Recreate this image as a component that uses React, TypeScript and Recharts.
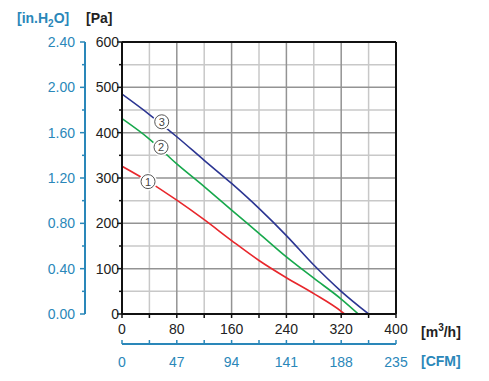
import React from "react";
import { LineChart, Line, XAxis, YAxis, CartesianGrid, ReferenceLine, ReferenceDot } from "recharts";

// axis ticks
const flowTicks = [0, 40, 80, 120, 160, 200, 240, 280, 320, 360, 400];
const cfmTicks = [0, 23.5, 47, 70.5, 94, 117.5, 141, 164.5, 188, 211.5, 235];
const paTicks = [0, 50, 100, 150, 200, 250, 300, 350, 400, 450, 500, 550, 600];
const inTicks = [0, 0.2, 0.4, 0.6, 0.8, 1.0, 1.2, 1.4, 1.6, 1.8, 2.0, 2.2, 2.4];

// grid lines
const gridLightX = [40, 120, 200, 280, 360];
const gridDarkX = [80, 160, 240, 320];
const gridLightY = [50, 150, 250, 350, 450, 550];
const gridDarkY = [100, 200, 300, 400, 500];

// fan curves: flow [m3/h], pressure [Pa]
const flow1 = [0, 40, 80, 120, 160, 200, 240, 280, 320, 325];
const pres1 = [326, 291, 251, 208, 162, 118, 80, 45, 6, 0];
const flow2 = [0, 40, 80, 120, 160, 200, 240, 280, 320, 345];
const pres2 = [431, 386, 331, 281, 229, 178, 126, 79, 33, 0];
const flow3 = [0, 40, 80, 120, 160, 200, 240, 280, 320, 360];
const pres3 = [485, 440, 391, 339, 288, 233, 173, 108, 50, 0];

// circled curve numbers
const curveLabels = ["1", "2", "3"];
const labelFlow = [38, 57, 58];
const labelPres = [292, 368, 424];

const curveColors = ["#e8272c", "#17a84c", "#2b3592"];

const BLUE = "#2a87b9";
const INK = "#222";

// axis ids (inner axis first)
const X_M3 = "a_m3";
const X_CFM = "b_cfm";
const Y_PA = "a_pa";
const Y_IN = "b_in";

const toData = (q: number[], p: number[]) => q.map((v, i) => ({ q: v, p: p[i] }));
const series = [toData(flow1, pres1), toData(flow2, pres2), toData(flow3, pres3)];

function PaTick(props: any) {
  const { x, y, payload } = props;
  const major = payload.value % 100 === 0;
  return (
    <g>
      <line x1={x - (major ? 5 : 3)} x2={x} y1={y} y2={y} stroke="#111" strokeWidth={1.5} />
      {major && (
        <text x={x - 3} y={y + 5} textAnchor="end" fontSize={14} fill={INK}>
          {payload.value}
        </text>
      )}
    </g>
  );
}

function InTick(props: any) {
  const { x, y, payload, index } = props;
  const major = index % 2 === 0;
  return (
    <g>
      <line x1={x - (major ? 5 : 3)} x2={x} y1={y} y2={y} stroke={BLUE} strokeWidth={1.5} />
      {major && (
        <text x={x - 10} y={y + 5} textAnchor="end" fontSize={14} fill={BLUE}>
          {Number(payload.value).toFixed(2)}
        </text>
      )}
    </g>
  );
}

function FlowTick(props: any) {
  const { x, y, payload } = props;
  const major = payload.value % 80 === 0;
  return (
    <g>
      <line x1={x} x2={x} y1={y} y2={y + 4} stroke="#111" strokeWidth={1.5} />
      {major && (
        <text x={x} y={y + 20} textAnchor="middle" fontSize={14} fill={INK}>
          {payload.value}
        </text>
      )}
    </g>
  );
}

function CfmTick(props: any) {
  const { x, y, payload, index } = props;
  const major = index % 2 === 0;
  return (
    <g>
      <line x1={x} x2={x} y1={y - 4} y2={y} stroke={BLUE} strokeWidth={1.5} />
      {major && (
        <text x={x} y={y + 23} textAnchor="middle" fontSize={14} fill={BLUE}>
          {payload.value}
        </text>
      )}
    </g>
  );
}

function CircleNum(props: any) {
  const { cx, cy, label } = props;
  return (
    <g>
      <circle cx={cx} cy={cy} r={9} fill="#fff" />
      <circle cx={cx} cy={cy} r={7} fill="#fff" stroke="#555" strokeWidth={1} />
      <text x={cx} y={cy + 4} textAnchor="middle" fontSize={11} fill="#444">
        {label}
      </text>
    </g>
  );
}

export default function App() {
  return (
    <div style={{ position: "absolute", left: 0, top: 0, width: 489, height: 381, fontFamily: "'Liberation Sans', Arial, sans-serif" }}>
      <LineChart width={489} height={381} margin={{ top: 42, right: 93, left: 5, bottom: 7 }}>
        <XAxis xAxisId={X_M3} type="number" dataKey="q" domain={[0, 400]} ticks={flowTicks} interval={0}
          height={30} tickSize={0} tickMargin={0} tickLine={false} tick={<FlowTick />}
          axisLine={{ stroke: "#111", strokeWidth: 2 }} allowDataOverflow />
        <XAxis xAxisId={X_CFM} type="number" dataKey="q" domain={[0, 235]} ticks={cfmTicks} interval={0}
          height={30} tickSize={0} tickMargin={0} tickLine={false} tick={<CfmTick />}
          axisLine={{ stroke: BLUE, strokeWidth: 2 }} allowDataOverflow />
        <YAxis yAxisId={Y_PA} type="number" domain={[0, 600]} ticks={paTicks} interval={0}
          width={37} tickSize={0} tickMargin={0} tickLine={false} tick={<PaTick />}
          axisLine={{ stroke: "#111", strokeWidth: 2 }} allowDataOverflow />
        <YAxis yAxisId={Y_IN} type="number" domain={[0, 2.4]} ticks={inTicks} interval={0}
          width={80} tickSize={0} tickMargin={0} tickLine={false} tick={<InTick />}
          axisLine={{ stroke: BLUE, strokeWidth: 2 }} allowDataOverflow />

        <CartesianGrid xAxisId={X_M3} yAxisId={Y_PA} verticalValues={gridLightX} horizontalValues={gridLightY}
          stroke="#c8c8c8" strokeWidth={1.5} />
        <CartesianGrid xAxisId={X_M3} yAxisId={Y_PA} verticalValues={gridDarkX} horizontalValues={gridDarkY}
          stroke="#939393" strokeWidth={1.5} />
        <ReferenceLine xAxisId={X_M3} yAxisId={Y_PA} y={600} stroke="#111" strokeWidth={2} />
        <ReferenceLine xAxisId={X_M3} yAxisId={Y_PA} x={400} stroke="#111" strokeWidth={2} />

        {series.map((d, i) => (
          <Line key={i} xAxisId={X_M3} yAxisId={Y_PA} data={d} dataKey="p" type="monotone"
            stroke={curveColors[i]} strokeWidth={1.6} dot={false} activeDot={false} isAnimationActive={false} />
        ))}

        {curveLabels.map((lab, i) => (
          <ReferenceDot key={lab} xAxisId={X_M3} yAxisId={Y_PA} x={labelFlow[i]} y={labelPres[i]} r={7}
            shape={(p: any) => <CircleNum {...p} label={lab} />} />
        ))}
      </LineChart>
      <svg width={489} height={381} style={{ position: "absolute", left: 0, top: 0, pointerEvents: "none" }}>
        <text x={17} y={23} fontSize={14} fontWeight="bold" fill={BLUE}>
          [in.H<tspan fontSize={10} dy={4}>2</tspan><tspan dy={-4}>O]</tspan>
        </text>
        <text x={86} y={23} fontSize={14} fontWeight="bold" fill={INK}>[Pa]</text>
        <text x={421} y={337} fontSize={14} fontWeight="bold" fill={INK}>
          [m<tspan fontSize={10} dy={-6}>3</tspan><tspan dy={6}>/h]</tspan>
        </text>
        <text x={421} y={366} fontSize={14} fontWeight="bold" fill={BLUE}>[CFM]</text>
      </svg>
    </div>
  );
}
